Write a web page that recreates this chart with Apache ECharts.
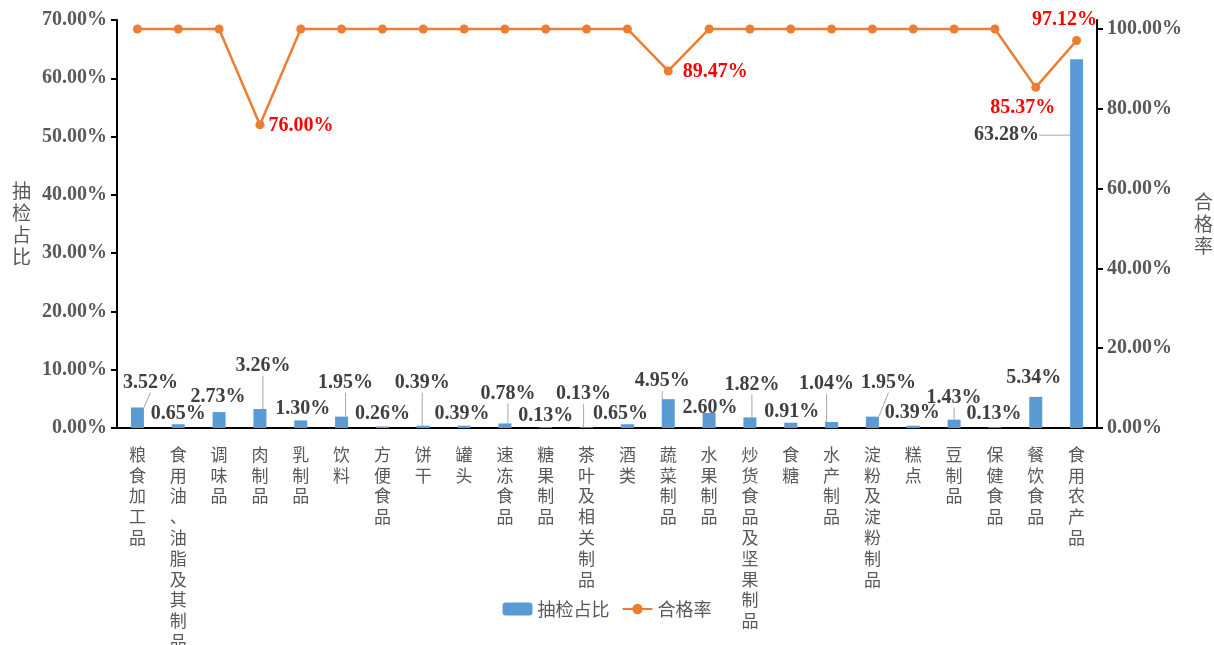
<!DOCTYPE html>
<html>
<head>
<meta charset="utf-8">
<script src="https://cdn.jsdelivr.net/npm/echarts@6/dist/echarts.min.js"></script>
<style>
  html, body { margin: 0; padding: 0; background: #fff; }
  #main { width: 1214px; height: 645px; }
</style>
</head>
<body>
<div id="main"></div>
<script>
  // 数据
  var categories = ["粮食加工品", "食用油、油脂及其制品", "调味品", "肉制品", "乳制品", "饮料", "方便食品", "饼干", "罐头",
    "速冻食品", "糖果制品", "茶叶及相关制品", "酒类", "蔬菜制品", "水果制品", "炒货食品及坚果制品", "食糖", "水产制品",
    "淀粉及淀粉制品", "糕点", "豆制品", "保健食品", "餐饮食品", "食用农产品"];
  var sampleShare = [3.52, 0.65, 2.73, 3.26, 1.30, 1.95, 0.26, 0.39, 0.39, 0.78, 0.13, 0.13, 0.65, 4.95, 2.60, 1.82,
    0.91, 1.04, 1.95, 0.39, 1.43, 0.13, 5.34, 63.28];
  var passRate = [100, 100, 100, 76.00, 100, 100, 100, 100, 100, 100, 100, 100, 100, 89.47, 100, 100, 100, 100, 100,
    100, 100, 100, 85.37, 97.12];
  var leftTicks = [0, 10, 20, 30, 40, 50, 60, 70];
  var rightTicks = [0, 20, 40, 60, 80, 100];

  // 标签偏移（样式，不是数据）
  var barLabelShift = [[13, -10], [0, 5], [-1, 0], [3, -28], [2, 3], [4, -19], [0, 2], [-1, -28], [-2, 3], [3, -15],
    [0, 4], [-3, -18], [-7, 5], [-6, -3], [1, 10], [2, -18], [1, 4], [-5, -23], [16, -19], [-1, 2], [0, -7],
    [-1, 2], [-2, -4], [-70, 91]];
  var withLine = [0, 3, 5, 7, 9, 11, 13, 15, 17, 18, 20, 23];
  var rateLabels = {
    3: { position: "right", distance: 4, offset: [0, 1] },
    13: { position: "right", distance: 10, offset: [0, 1] },
    22: { position: "bottom", distance: 6, offset: [-13, 0] },
    23: { position: "top", distance: 6, offset: [-12, 0] }
  };

  var serif = "'Liberation Serif', 'Times New Roman', serif";
  var cjk = "'Noto Sans CJK SC', sans-serif";

  var barData = sampleShare.map(function (v, i) {
    return { value: v, labelLine: { show: withLine.indexOf(i) >= 0 } };
  });
  var lineData = passRate.map(function (v, i) {
    var cfg = rateLabels[i];
    if (!cfg) return { value: v, label: { show: false } };
    return {
      value: v,
      label: { show: true, position: cfg.position, distance: cfg.distance, offset: cfg.offset }
    };
  });

  var myChart = echarts.init(document.getElementById("main"));
  myChart.setOption({
    animation: false,
    grid: { left: 117, right: 117, top: 20, bottom: 217, containLabel: false, outerBoundsMode: "none" },
    legend: {
      bottom: 22,
      left: "center",
      itemWidth: 30,
      itemHeight: 13,
      itemGap: 12,
      textStyle: { fontFamily: cjk, fontSize: 18, color: "#595959" },
      data: ["抽检占比", "合格率"]
    },
    xAxis: {
      type: "category",
      data: categories,
      axisLine: { lineStyle: { color: "#000", width: 2 } },
      axisTick: { show: false },
      axisLabel: {
        interval: 0,
        margin: 16,
        fontFamily: cjk,
        fontSize: 17,
        lineHeight: 20.8,
        color: "#595959",
        verticalAlign: "top",
        formatter: function (s) { return s.split("").join("\n"); }
      }
    },
    yAxis: [
      {
        type: "value",
        name: "抽\n检\n占\n比",
        nameLocation: "middle",
        nameRotate: 0,
        nameGap: 86,
        nameTextStyle: { fontFamily: cjk, fontSize: 19, color: "#595959", lineHeight: 22 },
        min: 0,
        max: 70,
        interval: 10,
        splitLine: { show: false },
        axisLine: { show: true, lineStyle: { color: "#000", width: 2 } },
        axisTick: { show: true, length: 6, lineStyle: { color: "#000", width: 2 } },
        axisLabel: {
          fontFamily: serif,
          fontWeight: "bold",
          fontSize: 20,
          color: "#595959",
          margin: 10,
          customValues: leftTicks,
          formatter: function (v) { return v.toFixed(2) + "%"; }
        }
      },
      {
        type: "value",
        name: "合\n格\n率",
        nameLocation: "middle",
        nameRotate: 0,
        nameGap: 97,
        nameTextStyle: { fontFamily: cjk, fontSize: 19, color: "#595959", lineHeight: 22 },
        min: 0,
        max: 102.25,
        splitLine: { show: false },
        axisLine: { show: true, lineStyle: { color: "#000", width: 2 } },
        axisTick: { show: true, length: 6, customValues: rightTicks, lineStyle: { color: "#000", width: 2 } },
        axisLabel: {
          fontFamily: serif,
          fontWeight: "bold",
          fontSize: 20,
          color: "#595959",
          margin: 10,
          customValues: rightTicks,
          formatter: function (v) { return v.toFixed(2) + "%"; }
        }
      }
    ],
    series: [
      {
        name: "抽检占比",
        type: "bar",
        data: barData,
        barWidth: 13,
        itemStyle: { color: "#5B9BD5" },
        label: {
          show: true,
          position: "top",
          distance: 5,
          fontFamily: serif,
          fontWeight: "bold",
          fontSize: 20,
          color: "#404040",
          formatter: function (p) { return p.value.toFixed(2) + "%"; }
        },
        labelLine: { show: false, lineStyle: { color: "#A6A6A6", width: 1 } },
        labelLayout: function (p) {
          var s = barLabelShift[p.dataIndex];
          return { dx: s[0], dy: s[1] };
        }
      },
      {
        name: "合格率",
        type: "line",
        yAxisIndex: 1,
        data: lineData,
        symbol: "circle",
        symbolSize: 9,
        itemStyle: { color: "#ED7D31" },
        lineStyle: { color: "#ED7D31", width: 2.5 },
        label: {
          fontFamily: serif,
          fontWeight: "bold",
          fontSize: 20,
          color: "#FF0000",
          formatter: function (p) { return p.value.toFixed(2) + "%"; }
        }
      }
    ]
  });
</script>
</body>
</html>
